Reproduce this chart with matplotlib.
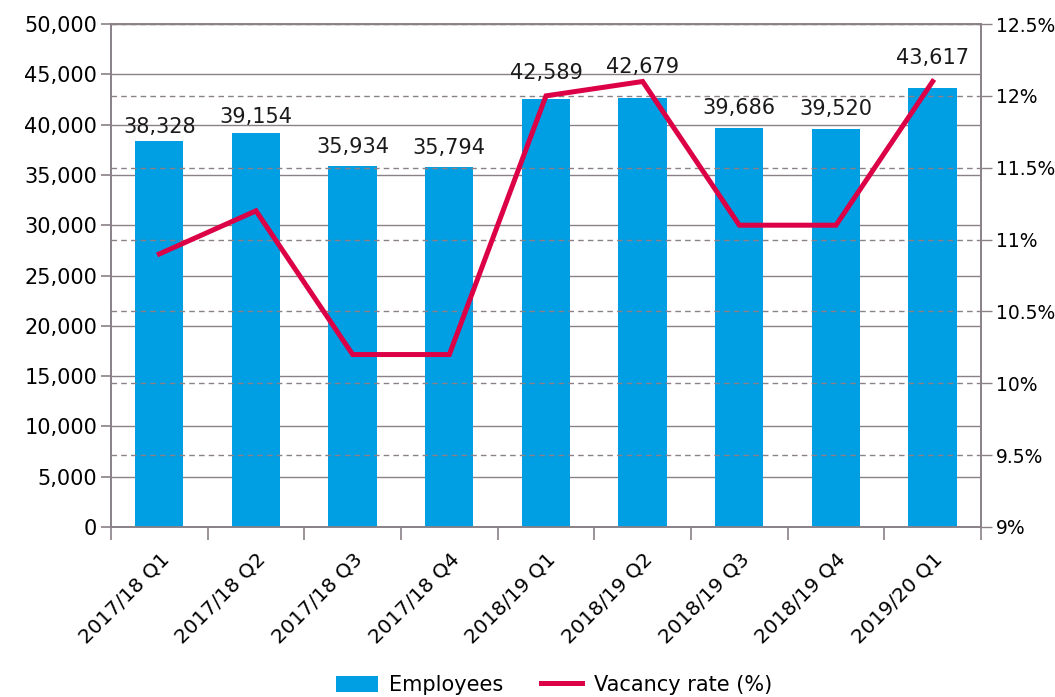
import matplotlib
matplotlib.use("Agg")
import matplotlib.pyplot as plt
import numpy as np
from matplotlib.ticker import FuncFormatter, FixedLocator
from matplotlib.patches import Patch
from matplotlib.lines import Line2D

categories = ["2017/18 Q1", "2017/18 Q2", "2017/18 Q3", "2017/18 Q4", "2018/19 Q1",
              "2018/19 Q2", "2018/19 Q3", "2018/19 Q4", "2019/20 Q1"]
employees = [38328, 39154, 35934, 35794, 42589, 42679, 39686, 39520, 43617]
vacancy = [10.9, 11.2, 10.2, 10.2, 12.0, 12.1, 11.1, 11.1, 12.1]

# layout: gap (px) between bar top and label baseline
label_gap_px = [8, 10, 13, 13, 20, 25, 14, 14, 24]

plt.rcParams['font.family'] = ['DejaVu Sans']
BAR = "#009fe3"
LINE = "#dc0046"
GRID = "#8a8088"

fig = plt.figure(figsize=(10.55, 6.97), dpi=100)
ax = fig.add_axes([111/1055, 1-527/697, (981-111)/1055, (527-24)/697])
x = np.arange(len(categories))
ax.bar(x, employees, width=0.5, color=BAR, zorder=3)
ax.set_xlim(-0.5, len(categories)-0.5)
ax.set_ylim(0, 50000)
ax.set_yticks(np.arange(0, 50001, 5000))
ax.yaxis.set_major_formatter(FuncFormatter(lambda v, p: f"{int(v):,}"))
ax.grid(axis='y', color=GRID, linewidth=1.0, zorder=0)
ax.set_xticks(x)
ax.set_xticklabels(categories, rotation=45, ha='right', rotation_mode='anchor')
ax.xaxis.set_minor_locator(FixedLocator(np.arange(-0.5, len(categories), 1.0)))
ax.tick_params(axis='x', which='major', length=0, pad=16, labelsize=14.5)
ax.tick_params(axis='x', which='minor', length=9, color=GRID, width=1.2)
ax.tick_params(axis='y', length=7, color=GRID, width=1.2, labelsize=15, pad=3)
for s in ['left', 'right', 'bottom', 'top']:
    ax.spines[s].set_color(GRID)
    ax.spines[s].set_linewidth(1.2)

for xi, v, g in zip(x, employees, label_gap_px):
    ax.annotate(f"{v:,}", (xi, v), xytext=(0, g * 0.72), textcoords='offset points',
                ha='center', va='baseline', fontsize=15, zorder=5, color='#1a1a1a')

ax2 = ax.twinx()
ax2.set_ylim(9, 12.5)
ax2.set_yticks(np.arange(9, 12.51, 0.5))
ax2.yaxis.set_major_formatter(FuncFormatter(lambda v, p: f"{v:g}%"))
ax2.grid(axis='y', color=GRID, linestyle=(0, (4, 3)), linewidth=1.0)
ax2.tick_params(axis='y', length=8, color=GRID, width=1.0, labelsize=13.5, pad=3)
for s in ['left', 'right', 'bottom', 'top']:
    ax2.spines[s].set_color(GRID)
    ax2.spines[s].set_linewidth(1.2)
ax2.plot(x, vacancy, color=LINE, linewidth=3.6, zorder=6, solid_joinstyle='miter')
ax.set_zorder(1)
ax2.set_zorder(2)
ax2.patch.set_visible(False)

handles = [Patch(facecolor=BAR, edgecolor='none', label='Employees'),
           Line2D([0], [0], color=LINE, linewidth=3.6, label='Vacancy rate (%)')]
fig.legend(handles=handles, loc='center', bbox_to_anchor=(554/1055, 1-685/697), ncol=2,
           frameon=False, fontsize=15, handlelength=2.0, handleheight=0.8,
           handletextpad=0.55, columnspacing=1.8)

fig.savefig("out.png", dpi=100)
